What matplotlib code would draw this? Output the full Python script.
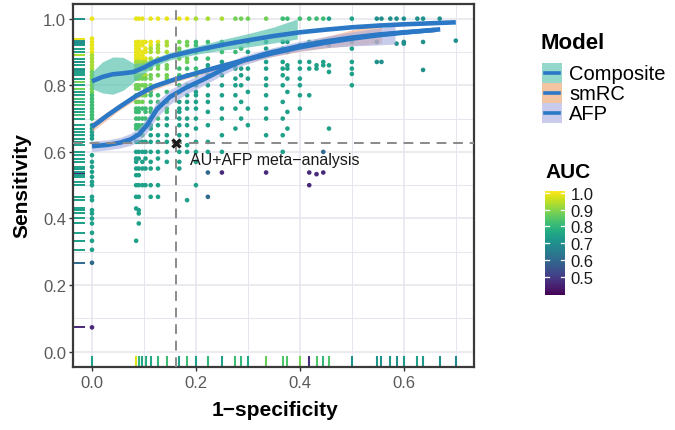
import matplotlib
matplotlib.use("Agg")
import matplotlib.pyplot as plt
from matplotlib.collections import LineCollection
from matplotlib import colors as mcolors, colorbar as mcolorbar
from matplotlib.patches import Rectangle
from matplotlib.lines import Line2D
from matplotlib.ticker import MultipleLocator

plt.rcParams['font.family'] = ['Liberation Sans', 'DejaVu Sans']

# ------------------------------------------------------------------ data
fpr_ticks = [0.0, 0.2, 0.4, 0.6]
sens_ticks = [0.0, 0.2, 0.4, 0.6, 0.8, 1.0]
auc_ticks = [0.5, 0.6, 0.7, 0.8, 0.9, 1.0]
model_names = ["Composite", "smRC", "AFP"]

meta_fpr = 0.1615
meta_sens = 0.628
meta_label = "AU+AFP meta\u2212analysis"

# studies grouped by their AUC colour: (1-specificity, [sensitivities])
auc_g1 = 0.99
pts_g1 = [
    (0.0,   [1.0, 0.94, 0.93, 0.92, 0.91, 0.90]),
    (0.085, [1.0, 0.93, 0.92, 0.91, 0.90, 0.89, 0.88]),
    (0.09,  [1.0, 0.93, 0.92, 0.91, 0.90, 0.89, 0.88]),
    (0.097, [1.0, 0.93, 0.92, 0.90, 0.89, 0.88]),
    (0.103, [0.93, 0.91, 0.90, 0.88]),
    (0.113, [1.0, 0.93, 0.92]),
    (0.127, [1.0, 0.93]),
    (0.144, [1.0]),
    (0.168, [1.0]),
    (0.183, [1.0]),
]
auc_g2 = 0.93
pts_g2 = [
    (0.0,   [0.89, 0.88, 0.87, 0.86, 0.85]),
    (0.085, [0.87, 0.86, 0.85, 0.83]),
    (0.09,  [0.87, 0.86, 0.85, 0.83]),
    (0.097, [0.87, 0.86, 0.85, 0.83]),
    (0.103, [0.87, 0.86, 0.85, 0.83]),
    (0.113, [0.91, 0.90, 0.88, 0.87]),
    (0.127, [0.92, 0.91, 0.90, 0.88]),
    (0.144, [0.93, 0.92, 0.90, 0.88]),
    (0.2,   [1.0]),
    (0.223, [1.0]),
    (0.25,  [1.0]),
]
auc_g3 = 0.88
pts_g3 = [
    (0.0,   [0.84, 0.83, 0.82, 0.81, 0.80, 0.79, 0.78]),
    (0.085, [0.82, 0.80, 0.79, 0.77, 0.75]),
    (0.09,  [0.82, 0.80, 0.79, 0.77, 0.75]),
    (0.097, [0.82, 0.80, 0.77, 0.75]),
    (0.103, [0.82, 0.80, 0.79, 0.77]),
    (0.113, [0.86, 0.85, 0.83, 0.82, 0.80]),
    (0.127, [0.86, 0.85, 0.83, 0.80]),
    (0.144, [0.86, 0.85, 0.83, 0.82]),
    (0.168, [0.93, 0.91, 0.90, 0.88]),
    (0.183, [0.93, 0.92, 0.90, 0.88, 0.87]),
    (0.276, [1.0]),
    (0.287, [1.0]),
    (0.3,   [1.0]),
    (0.335, [1.0]),
]
auc_g4 = 0.82
pts_g4 = [
    (0.0,   [0.77, 0.76, 0.75, 0.74, 0.73, 0.72, 0.71, 0.70]),
    (0.085, [0.73, 0.72, 0.70, 0.68, 0.67, 0.65]),
    (0.09,  [0.73, 0.72, 0.70, 0.68, 0.67]),
    (0.097, [0.73, 0.70, 0.68, 0.67, 0.65]),
    (0.103, [0.73, 0.72, 0.70, 0.68]),
    (0.113, [0.78, 0.77, 0.75, 0.73, 0.72, 0.70]),
    (0.127, [0.77, 0.75, 0.73, 0.70]),
    (0.144, [0.78, 0.75, 0.73, 0.72]),
    (0.168, [0.85, 0.83, 0.82, 0.80, 0.78]),
    (0.183, [0.85, 0.83, 0.80]),
    (0.2,   [0.93, 0.92, 0.90, 0.88, 0.85, 0.83]),
    (0.223, [0.93, 0.91, 0.88]),
    (0.25,  [0.93, 0.92, 0.90]),
    (0.276, [0.93, 0.90]),
    (0.287, [0.93, 0.91]),
    (0.3,   [0.93]),
    (0.367, [1.0]),
    (0.376, [1.0]),
    (0.4,   [1.0]),
    (0.418, [1.0]),
    (0.432, [1.0]),
    (0.445, [1.0]),
]
auc_g5 = 0.74
pts_g5 = [
    (0.0,   [0.68, 0.67, 0.66, 0.65, 0.64, 0.59, 0.57, 0.555, 0.54, 0.525,
             0.51, 0.50, 0.465, 0.455, 0.425, 0.415, 0.40, 0.385, 0.357,
             0.333, 0.306]),
    (0.085, [0.63, 0.60, 0.58, 0.57, 0.55, 0.53, 0.50, 0.465, 0.43, 0.333]),
    (0.09,  [0.63, 0.60, 0.58, 0.55, 0.53, 0.50, 0.465, 0.425, 0.415, 0.385]),
    (0.097, [0.63, 0.60, 0.57, 0.55, 0.50]),
    (0.103, [0.63, 0.60, 0.58, 0.55, 0.50]),
    (0.113, [0.68, 0.67, 0.65, 0.63, 0.60, 0.57, 0.55, 0.50, 0.465]),
    (0.127, [0.68, 0.65, 0.63, 0.60, 0.58, 0.55, 0.50, 0.465]),
    (0.144, [0.70, 0.68, 0.65, 0.63, 0.60, 0.57]),
    (0.168, [0.75, 0.73, 0.72, 0.70, 0.68, 0.65, 0.63, 0.60, 0.57, 0.55]),
    (0.183, [0.77, 0.75, 0.73, 0.70, 0.68, 0.65, 0.62, 0.60, 0.455]),
    (0.2,   [0.80, 0.78, 0.77, 0.75, 0.73, 0.70, 0.67, 0.63, 0.60, 0.57, 0.50]),
    (0.223, [0.86, 0.85, 0.83, 0.80, 0.77, 0.75, 0.72, 0.68, 0.63, 0.60]),
    (0.25,  [0.87, 0.85, 0.83, 0.80, 0.77, 0.73, 0.70, 0.65, 0.60]),
    (0.276, [0.86, 0.85, 0.82, 0.80, 0.77, 0.73, 0.67]),
    (0.287, [0.87, 0.85, 0.83, 0.80, 0.75, 0.70]),
    (0.3,   [0.90, 0.88, 0.85, 0.82, 0.78, 0.73, 0.68]),
    (0.335, [0.93, 0.91, 0.87, 0.85, 0.82, 0.80, 0.77, 0.73, 0.70, 0.65]),
    (0.367, [0.93, 0.91, 0.87, 0.85, 0.83, 0.80, 0.75, 0.70, 0.65, 0.60]),
    (0.376, [0.93, 0.90, 0.86, 0.85, 0.82, 0.78, 0.72, 0.67]),
    (0.4,   [0.92, 0.87, 0.85, 0.82, 0.80, 0.77, 0.73]),
    (0.418, [0.93, 0.87, 0.85, 0.77]),
    (0.432, [0.93, 0.86, 0.85]),
    (0.445, [0.93, 0.87, 0.86]),
    (0.456, [1.0, 0.93, 0.92, 0.86, 0.84, 0.67]),
    (0.5,   [1.0, 0.93, 0.91, 0.87, 0.85, 0.834, 0.80]),
]
auc_g6 = 0.70
pts_g6 = [
    (0.548, [1.0, 0.93, 0.87]),
    (0.557, [1.0, 0.87]),
    (0.574, [1.0]),
    (0.586, [1.0, 0.925]),
    (0.6,   [1.0, 0.93, 0.925]),
    (0.626, [1.0]),
    (0.637, [1.0, 0.93, 0.846]),
    (0.669, [1.0]),
    (0.7,   [0.934]),
]
auc_g7 = 0.60
pts_g7 = [
    (0.0,   [0.267]),
    (0.223, [0.538, 0.465]),
    (0.445, [0.60]),
]
auc_g8 = 0.46
pts_g8 = [
    (0.0,   [0.073]),
    (0.25,  [0.538]),
    (0.335, [0.538]),
    (0.418, [0.538, 0.50]),
    (0.432, [0.533]),
    (0.445, [0.538]),
]

# colour of the topmost rug tick at each distinct 1-specificity value
rug_fpr = [0.0, 0.085, 0.09, 0.097, 0.103, 0.113, 0.127, 0.144, 0.168, 0.183,
           0.2, 0.223, 0.25, 0.276, 0.287, 0.3, 0.335, 0.367, 0.376, 0.4,
           0.418, 0.432, 0.445, 0.456, 0.5, 0.548, 0.557, 0.574, 0.586, 0.6,
           0.626, 0.637, 0.669, 0.7]
rug_auc = [0.74, 0.98, 0.80, 0.76, 0.78, 0.76, 0.80, 0.82, 0.74, 0.82,
           0.74, 0.80, 0.74, 0.82, 0.80, 0.76, 0.87, 0.84, 0.84, 0.88,
           0.47, 0.84, 0.80, 0.84, 0.70, 0.72, 0.70, 0.72, 0.70, 0.72,
           0.74, 0.72, 0.70, 0.68]

# smoothed curves
comp_fpr = [0.0, 0.02, 0.04, 0.06, 0.08, 0.1, 0.12, 0.15, 0.2, 0.25, 0.3,
            0.35, 0.4, 0.45, 0.5, 0.55, 0.6, 0.65, 0.7]
comp_sens = [0.812, 0.825, 0.833, 0.836, 0.840, 0.853, 0.870, 0.887, 0.905,
             0.921, 0.935, 0.948, 0.959, 0.967, 0.974, 0.979, 0.983, 0.986, 0.989]
comp_band_fpr = [0.0, 0.02, 0.04, 0.06, 0.08, 0.1, 0.12, 0.15, 0.2, 0.25,
                 0.3, 0.35, 0.395]
comp_lo = [0.790, 0.777, 0.773, 0.785, 0.810, 0.835, 0.858, 0.876, 0.893,
           0.905, 0.915, 0.927, 0.939]
comp_hi = [0.840, 0.870, 0.885, 0.884, 0.866, 0.868, 0.882, 0.898, 0.917,
           0.937, 0.955, 0.975, 0.999]

smrc_fpr = [0.0, 0.03, 0.055, 0.085, 0.12, 0.16, 0.2, 0.25, 0.3, 0.35, 0.4,
            0.45, 0.5, 0.55, 0.6, 0.67]
smrc_sens = [0.675, 0.710, 0.737, 0.768, 0.797, 0.818, 0.836, 0.858, 0.878,
             0.897, 0.914, 0.928, 0.940, 0.950, 0.958, 0.968]
smrc_band_fpr = [0.0, 0.05, 0.1, 0.15, 0.2, 0.25, 0.3, 0.35, 0.4, 0.45, 0.5, 0.557]
smrc_lo = [0.661, 0.722, 0.774, 0.805, 0.828, 0.850, 0.869, 0.887, 0.902,
           0.912, 0.920, 0.926]
smrc_hi = [0.689, 0.742, 0.790, 0.821, 0.844, 0.866, 0.887, 0.907, 0.926,
           0.946, 0.966, 0.990]

afp_fpr = [0.0, 0.03, 0.055, 0.075, 0.09, 0.105, 0.125, 0.15, 0.18, 0.215,
           0.25, 0.29, 0.34, 0.4, 0.45, 0.5, 0.55, 0.6, 0.66]
afp_sens = [0.617, 0.621, 0.628, 0.638, 0.652, 0.678, 0.728, 0.765, 0.792,
            0.818, 0.846, 0.874, 0.897, 0.918, 0.932, 0.943, 0.952, 0.959, 0.966]
afp_band_fpr = [0.0, 0.03, 0.055, 0.075, 0.09, 0.105, 0.125, 0.15, 0.18,
                0.215, 0.25, 0.29, 0.34, 0.4, 0.45, 0.5, 0.55, 0.583]
afp_lo = [0.601, 0.606, 0.612, 0.620, 0.632, 0.656, 0.704, 0.743, 0.772,
          0.800, 0.830, 0.860, 0.884, 0.903, 0.913, 0.918, 0.921, 0.924]
afp_hi = [0.633, 0.636, 0.644, 0.656, 0.672, 0.700, 0.752, 0.787, 0.812,
          0.836, 0.862, 0.888, 0.910, 0.932, 0.947, 0.960, 0.971, 0.980]

# ------------------------------------------------------------------ styling
W, H = 675, 431
line_col = "#2A78C6"
band_cols = ["#5cc4b0", "#f4a982", "#a3aae0"]
band_alpha = [0.7, 0.6, 0.6]
key_cols = ["#93d8cb", "#f3c4a2", "#c8cbeb"]
grid_col = "#e6e6ee"
norm = mcolors.Normalize(vmin=0.39, vmax=1.012)
cmap = plt.get_cmap("viridis")

fig = plt.figure(figsize=(W / 100, H / 100), dpi=100)
ax = fig.add_axes([73 / W, 1 - 368 / H, (474 - 73) / W, (368 - 5) / H])
ax.set_xlim(-0.0365, 0.735)
ax.set_ylim(-0.046, 1.044)

# grid
ax.xaxis.set_major_locator(MultipleLocator(0.2))
ax.yaxis.set_major_locator(MultipleLocator(0.2))
ax.xaxis.set_minor_locator(MultipleLocator(0.1))
ax.yaxis.set_minor_locator(MultipleLocator(0.1))
ax.grid(True, which="major", color=grid_col, lw=1.2, zorder=0)
ax.grid(True, which="minor", color=grid_col, lw=0.7, zorder=0)
ax.set_axisbelow(True)
ax.set_xticks(fpr_ticks)
ax.set_yticks(sens_ticks)
ax.set_xticklabels([f"{v:.1f}" for v in fpr_ticks])
ax.set_yticklabels([f"{v:.1f}" for v in sens_ticks])
ax.tick_params(which="major", length=3, width=1, color="#333333",
               labelsize=12, labelcolor="#5a5a5a")
ax.tick_params(axis="x", pad=3)
ax.tick_params(axis="y", pad=2)
ax.tick_params(which="minor", length=0)
for sp in ax.spines.values():
    sp.set_color("#3a3a3a")
    sp.set_linewidth(1.6)

# points
groups = [(auc_g7, pts_g7), (auc_g8, pts_g8), (auc_g1, pts_g1), (auc_g2, pts_g2),
          (auc_g3, pts_g3), (auc_g4, pts_g4), (auc_g5, pts_g5), (auc_g6, pts_g6)]
px, py, pc = [], [], []
for auc, cols in groups:
    for fx_, ss in cols:
        for s in ss:
            px.append(fx_)
            py.append(s)
            pc.append(auc)
ax.scatter(px, py, c=pc, cmap=cmap, norm=norm, s=11, linewidths=0, zorder=2)

# rugs
yrug = LineCollection([[(0, y), (0.03, y)] for y in py],
                      colors=[cmap(norm(v)) for v in pc],
                      linewidths=1.4, transform=ax.get_yaxis_transform(), zorder=2)
xrug = LineCollection([[(x, 0), (x, 0.03)] for x in rug_fpr],
                      colors=[cmap(norm(v)) for v in rug_auc],
                      linewidths=1.5, transform=ax.get_xaxis_transform(), zorder=2)
ax.add_collection(yrug)
ax.add_collection(xrug)

# bands + curves
bands = [(comp_band_fpr, comp_lo, comp_hi), (smrc_band_fpr, smrc_lo, smrc_hi),
         (afp_band_fpr, afp_lo, afp_hi)]
curves = [(comp_fpr, comp_sens), (smrc_fpr, smrc_sens), (afp_fpr, afp_sens)]
for (bx, lo, hi), col, a in zip(bands, band_cols, band_alpha):
    ax.fill_between(bx, lo, hi, color=col, alpha=a, lw=0, zorder=3)
for cx, cy in curves:
    ax.plot(cx, cy, color=line_col, lw=3.3, solid_capstyle="butt",
            solid_joinstyle="round", zorder=4)

# meta-analysis reference
ax.axvline(meta_fpr, color="#8a8a8a", lw=1.4, ls=(0, (5, 3.5)), zorder=5)
ax.axhline(meta_sens, color="#8a8a8a", lw=1.4, ls=(0, (5, 3.5)), zorder=5)
ax.plot([meta_fpr], [meta_sens], marker="x", ms=6, mew=2.4, color="#1a1a1a",
        zorder=6)
ax.text(meta_fpr + 0.027, meta_sens - 0.05, meta_label, fontsize=11.5,
        color="#1a1a1a", ha="left", va="center", zorder=6)

# axis titles
fig.text(22 / W, 1 - 186 / H, "Sensitivity", rotation=90, fontsize=15,
         fontweight="bold", ha="center", va="center")
fig.text(275 / W, 1 - 411 / H, "1\u2212specificity", fontsize=15,
         fontweight="bold", ha="center", va="center")

# ------------------------------------------------------------------ legend
def fx(p):
    return p / W


def fy(p):
    return 1 - p / H


fig.text(fx(541), fy(44), "Model", fontsize=16, fontweight="bold",
         ha="left", va="center")
row_c = [74, 94, 114]
for name, kc, yc in zip(model_names, key_cols, row_c):
    fig.add_artist(Rectangle((fx(542), fy(yc + 10)), 20 / W, 20 / H,
                             transform=fig.transFigure, facecolor=kc,
                             edgecolor="none"))
    fig.add_artist(Line2D([fx(545), fx(559)], [fy(yc), fy(yc)],
                          transform=fig.transFigure, color=line_col, lw=2.6))
    fig.text(fx(569), fy(yc), name, fontsize=14.5, ha="left", va="center")

fig.text(fx(545), fy(173), "AUC", fontsize=15, fontweight="bold",
         ha="left", va="center")
cax = fig.add_axes([fx(545), fy(296), 20 / W, 104 / H])
cb = mcolorbar.ColorbarBase(cax, cmap=cmap, norm=norm, orientation="vertical",
                            ticks=auc_ticks)
cb.outline.set_visible(False)
cax.set_yticklabels([f"{v:.1f}" for v in auc_ticks])
cax.tick_params(length=0, labelsize=12, pad=4, labelcolor="#1a1a1a")
for t in auc_ticks:
    cax.axhline(t, 0, 0.2, color="white", lw=0.9)
    cax.axhline(t, 0.8, 1, color="white", lw=0.9)

fig.savefig("out.png", dpi=100)
